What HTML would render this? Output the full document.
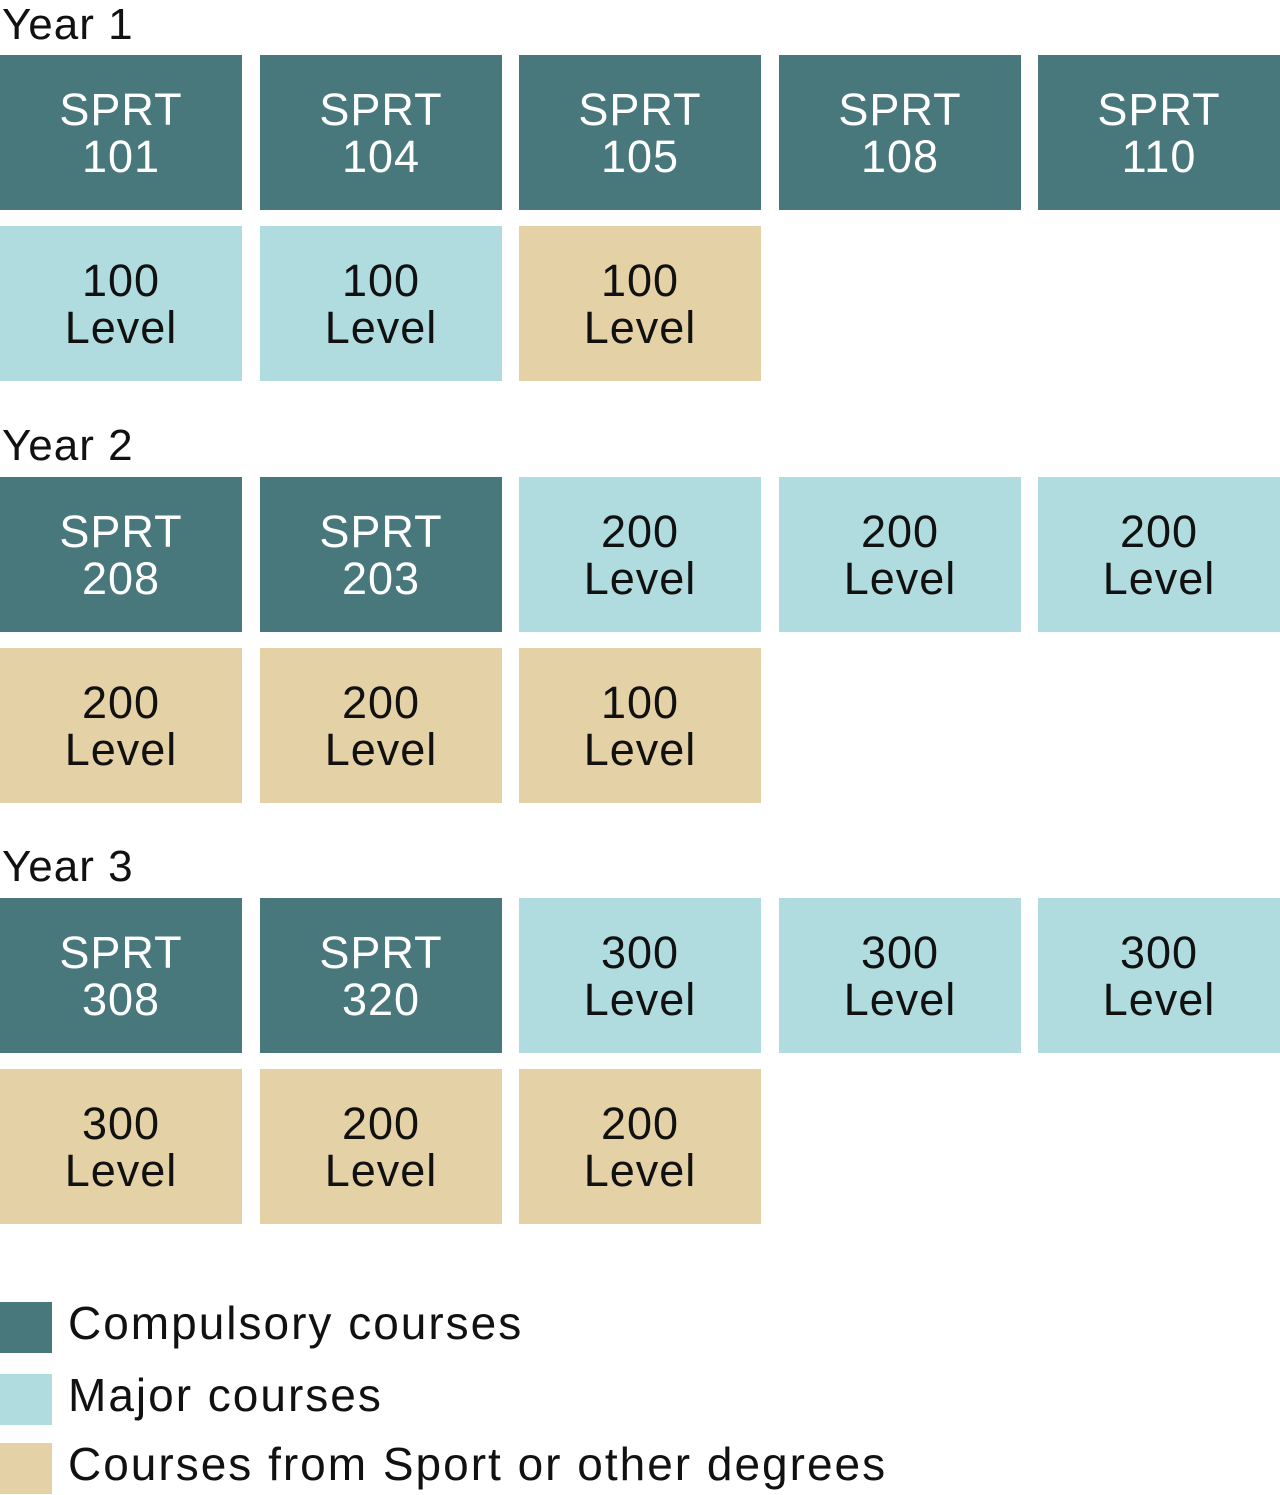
<!DOCTYPE html>
<html><head><style>
body{margin:0;width:1280px;height:1495px;background:#fff;font-family:"Liberation Sans",sans-serif;position:relative;overflow:hidden}
.b{position:absolute;width:242px;height:155px;display:flex;flex-direction:column;justify-content:center;align-items:center;font-size:45px;line-height:47px;text-align:center;letter-spacing:1px}
.d{background:#48787c;color:#fff}
.l{background:#b0dcdf;color:#111}
.t{background:#e4d1a5;color:#111}
.y{position:absolute;left:2px;font-size:44px;line-height:50px;color:#111;letter-spacing:1px}
.sq{position:absolute;left:0;width:52px;height:51px}
.lt{position:absolute;left:68px;font-size:46px;line-height:51px;color:#111;letter-spacing:2px}
</style></head><body>
<div class="y" style="top:0">Year 1</div>
<div class="b d" style="left:0;top:55px">SPRT<br>101</div>
<div class="b d" style="left:260px;top:55px">SPRT<br>104</div>
<div class="b d" style="left:519px;top:55px">SPRT<br>105</div>
<div class="b d" style="left:779px;top:55px">SPRT<br>108</div>
<div class="b d" style="left:1038px;top:55px">SPRT<br>110</div>
<div class="b l" style="left:0;top:226px">100<br>Level</div>
<div class="b l" style="left:260px;top:226px">100<br>Level</div>
<div class="b t" style="left:519px;top:226px">100<br>Level</div>

<div class="y" style="top:421px">Year 2</div>
<div class="b d" style="left:0;top:477px">SPRT<br>208</div>
<div class="b d" style="left:260px;top:477px">SPRT<br>203</div>
<div class="b l" style="left:519px;top:477px">200<br>Level</div>
<div class="b l" style="left:779px;top:477px">200<br>Level</div>
<div class="b l" style="left:1038px;top:477px">200<br>Level</div>
<div class="b t" style="left:0;top:648px">200<br>Level</div>
<div class="b t" style="left:260px;top:648px">200<br>Level</div>
<div class="b t" style="left:519px;top:648px">100<br>Level</div>

<div class="y" style="top:842px">Year 3</div>
<div class="b d" style="left:0;top:898px">SPRT<br>308</div>
<div class="b d" style="left:260px;top:898px">SPRT<br>320</div>
<div class="b l" style="left:519px;top:898px">300<br>Level</div>
<div class="b l" style="left:779px;top:898px">300<br>Level</div>
<div class="b l" style="left:1038px;top:898px">300<br>Level</div>
<div class="b t" style="left:0;top:1069px">300<br>Level</div>
<div class="b t" style="left:260px;top:1069px">200<br>Level</div>
<div class="b t" style="left:519px;top:1069px">200<br>Level</div>

<div class="sq d" style="top:1302px"></div><div class="lt" style="top:1298px">Compulsory courses</div>
<div class="sq l" style="top:1374px"></div><div class="lt" style="top:1370px">Major courses</div>
<div class="sq t" style="top:1443px"></div><div class="lt" style="top:1439px">Courses from Sport or other degrees</div>
</body></html>
